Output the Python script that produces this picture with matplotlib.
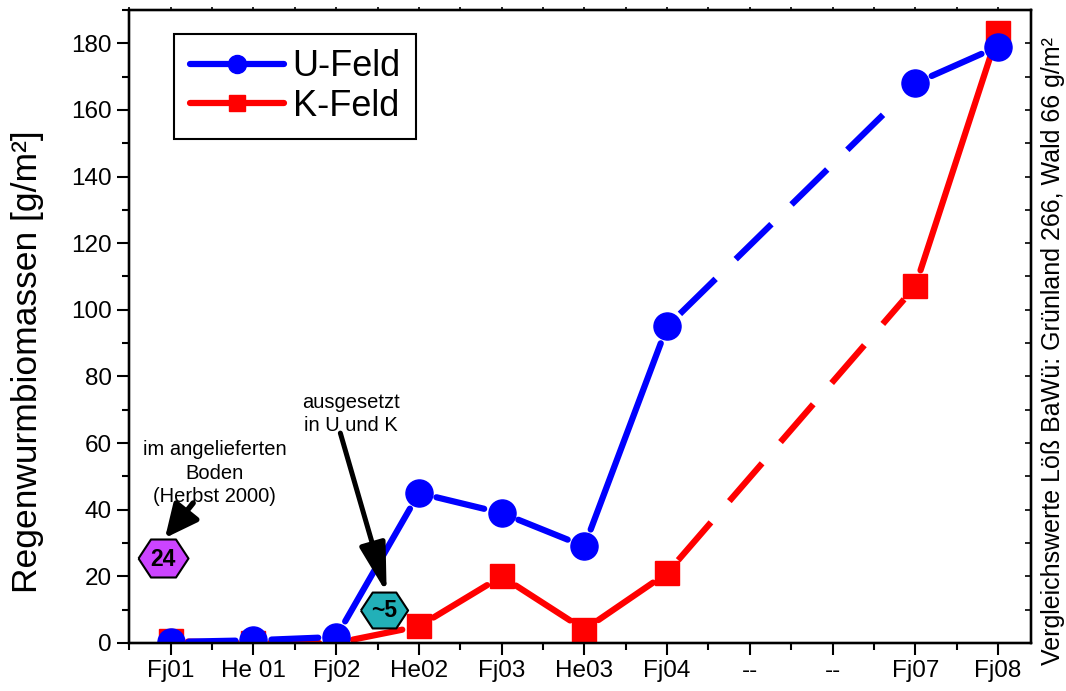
import numpy as np
import matplotlib
matplotlib.use('Agg')
import matplotlib.pyplot as plt
from matplotlib.lines import Line2D
from matplotlib.ticker import MultipleLocator, FixedLocator

plt.rcParams['font.family'] = ['Liberation Sans', 'DejaVu Sans']

# ---------------- data ----------------
categories = ['Fj01', 'He 01', 'Fj02', 'He02', 'Fj03', 'He03', 'Fj04', '--', '--', 'Fj07', 'Fj08']
u_feld = [0.3, 0.8, 1.8, 45, 39, 29, 95, np.nan, np.nan, 168, 179]
k_feld = [0.5, 0.0, 0.0, 5, 20, 4, 21, np.nan, np.nan, 107, 183]
series_names = ['U-Feld', 'K-Feld']
initial_value = '24'      # im angelieferten Boden
released_value = '~5'     # ausgesetzt in U und K

BLUE = '#0000FF'
RED = '#FF0000'

fig = plt.figure(figsize=(10.66, 6.91), dpi=100)
ax = fig.add_axes([0.1214, 0.0695, 0.8458, 0.9161])
x = np.arange(len(categories))
ax.set_xlim(-0.5, 10.4)
ax.set_ylim(0, 190)


def gapped_lines(ax, xs, ys, gap_px, color, lw, z):
    pts = [(xi, yi) for xi, yi in zip(xs, ys) if not np.isnan(yi)]
    inv = ax.transData.inverted()
    for (x0, y0), (x1, y1) in zip(pts[:-1], pts[1:]):
        p0 = ax.transData.transform((x0, y0))
        p1 = ax.transData.transform((x1, y1))
        d = p1 - p0
        L = np.hypot(*d)
        if L <= 2 * gap_px:
            continue
        u = d / L
        q0 = inv.transform(p0 + u * gap_px)
        q1 = inv.transform(p1 - u * gap_px)
        if x1 - x0 == 1:
            ax.plot([q0[0], q1[0]], [q0[1], q1[1]], color=color, lw=lw,
                    solid_capstyle='round', zorder=z)
        else:
            ax.plot([q0[0], q1[0]], [q0[1], q1[1]], color=color, lw=lw,
                    ls=(0, (8, 4.5)), dash_capstyle='butt', zorder=z)


k_arr = np.array(k_feld, dtype=float)
u_arr = np.array(u_feld, dtype=float)

gapped_lines(ax, x, k_arr, 17, RED, 4.5, 2)
ax.plot(x, k_arr, ls='none', marker='s', ms=17, color=RED, mec=RED, zorder=3)
gapped_lines(ax, x, u_arr, 18, BLUE, 4.5, 4)
ax.plot(x, u_arr, ls='none', marker='o', ms=19.5, color=BLUE, mec=BLUE, zorder=5)

# ---------------- annotations ----------------
hexa = [(-1, 0), (-0.5, 0.76), (0.5, 0.76), (1, 0), (0.5, -0.76), (-0.5, -0.76), (-1, 0)]
ax.plot([-0.09], [25.4], ls='none', marker=hexa, ms=36, mfc='#CC44FF', mec='black',
        mew=1.5, zorder=6, clip_on=False)
ax.text(-0.09, 25.0, initial_value, ha='center', va='center', fontsize=16.5,
        fontweight='bold', zorder=7)
ax.plot([2.58], [10.0], ls='none', marker=hexa, ms=34, mfc='#22B0B8', mec='black',
        mew=1.5, zorder=6)
ax.text(2.58, 9.6, released_value, ha='center', va='center', fontsize=16.5,
        fontweight='bold', zorder=7)

ax.text(0.53, 51, 'im angelieferten\nBoden\n(Herbst 2000)', ha='center', va='center',
        fontsize=14.5, linespacing=1.3, zorder=7)
ax.text(2.18, 68.7, 'ausgesetzt\nin U und K', ha='center', va='center',
        fontsize=14.5, linespacing=1.3, zorder=7)

ax.annotate('', xy=(-0.07, 31.5), xytext=(0.27, 42.0),
            arrowprops=dict(arrowstyle='-|>,head_length=2.0,head_width=0.95',
                            lw=4, color='black', shrinkA=0, shrinkB=0), zorder=8)
ax.annotate('', xy=(2.61, 15.0), xytext=(2.05, 63.0),
            arrowprops=dict(arrowstyle='-|>,head_length=3.0,head_width=0.8',
                            lw=3.6, color='black', shrinkA=0, shrinkB=0), zorder=8)

# ---------------- axes styling ----------------
ax.set_xticks(x)
ax.set_xticklabels(categories)
ax.xaxis.set_minor_locator(FixedLocator(np.arange(-0.5, 10.0, 1.0)))
ax.yaxis.set_major_locator(MultipleLocator(20))
ax.yaxis.set_minor_locator(MultipleLocator(10))
ax.set_yticks(np.arange(0, 181, 20))
ax.tick_params(axis='both', which='major', direction='out', length=8.5, width=1.5,
               labelsize=17.5, pad=4)
ax.tick_params(axis='both', which='minor', direction='out', length=5, width=1.5)
for s in ax.spines.values():
    s.set_linewidth(1.6)

ax_r = ax.twinx()
ax_r.set_ylim(0, 190)
ax_r.set_yticks(np.arange(0, 190, 10))
ax_r.tick_params(axis='y', direction='in', length=4, width=1.2, labelright=False)
ax_t = ax.twiny()
ax_t.set_xlim(-0.5, 10.4)
ax_t.set_xticks(np.arange(-0.5, 10.4, 0.5))
ax_t.tick_params(axis='x', direction='out', length=2, width=1.2, labeltop=False)
for a in (ax_r, ax_t):
    for s in a.spines.values():
        s.set_linewidth(1.6)

handles = [Line2D([], [], color=BLUE, lw=4.5, marker='o', ms=13, solid_capstyle='round'),
           Line2D([], [], color=RED, lw=4.5, marker='s', ms=12, solid_capstyle='round')]
leg = ax.legend(handles, series_names, loc='upper left', bbox_to_anchor=(0.05, 0.962),
                borderaxespad=0, fontsize=26, frameon=True, fancybox=False,
                edgecolor='black', framealpha=1, handlelength=2.6, handletextpad=0.25,
                labelspacing=0.12, borderpad=0.42)
leg.get_frame().set_linewidth(1.5)
leg.set_zorder(10)

fig.text(28 / 1066, 1 - 362 / 691, 'Regenwurmbiomassen [g/m²]', rotation=90,
         ha='center', va='center', fontsize=25.5)
fig.text(1053 / 1066, 1 - 351 / 691,
         'Vergleichswerte Löß BaWü: Grünland 266, Wald 66 g/m²', rotation=90,
         ha='center', va='center', fontsize=18)

fig.savefig('out.png', dpi=100)
